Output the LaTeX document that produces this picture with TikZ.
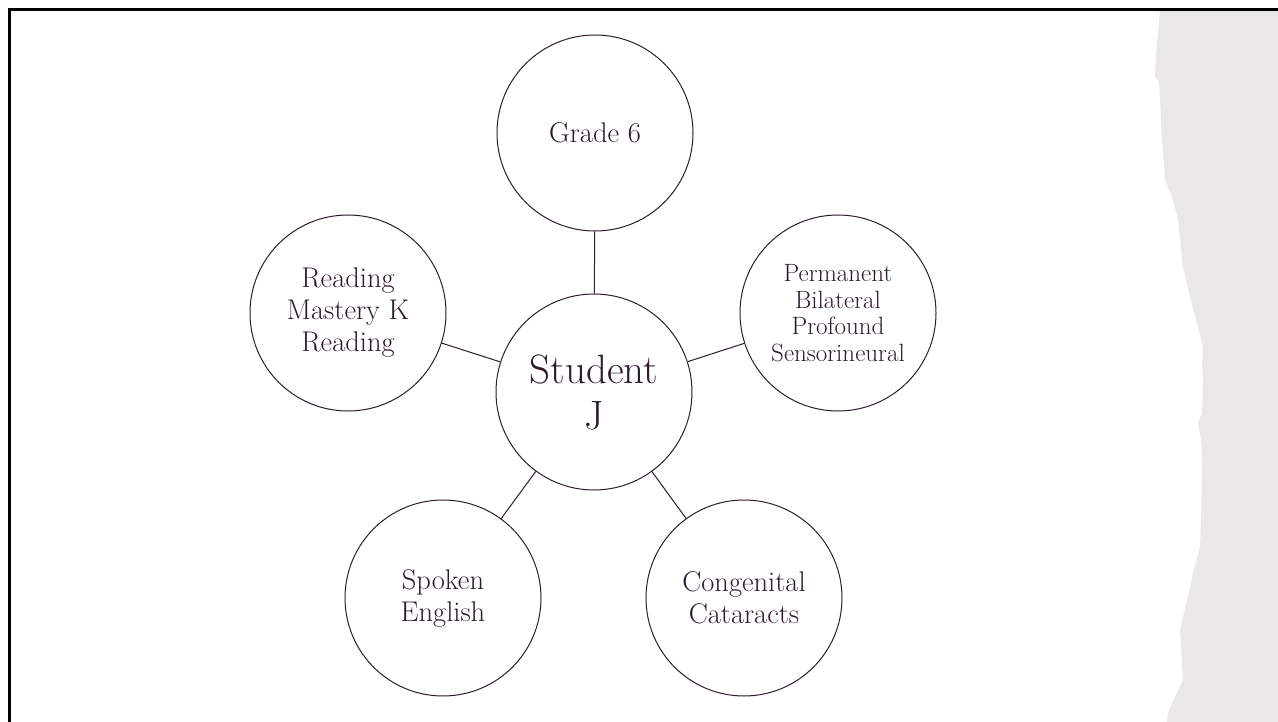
\documentclass[tikz,border=0pt]{standalone}
\usepackage{fontspec}
\definecolor{ink}{RGB}{44,28,44}
\definecolor{paper}{RGB}{234,232,230}
\begin{document}
\begin{tikzpicture}[x=1pt,y=-1pt,
  bubble/.style={circle,draw=ink,line width=1pt,minimum size=196pt,inner sep=0pt,
    align=center,text=ink,font=\fontsize{28.5}{32}\selectfont},
  link/.style={draw=ink,line width=1pt}]
\useasboundingbox (0,0) rectangle (1278,722);
\fill[white] (0,0) rectangle (1278,722);
\fill[paper] (1160,11) -- (1158,33) -- (1156,55) -- (1155,77) -- (1159,82) -- (1160,100) -- (1162,140)
  -- (1165,180) -- (1170,192) -- (1173,200) -- (1178,220) -- (1180,240) -- (1183,267) -- (1186,280) -- (1190,297)
  -- (1198,327) -- (1203,347) -- (1202,365) -- (1203,380) -- (1202,413) -- (1198,423) -- (1201,440) -- (1202,457)
  -- (1202,480) -- (1201,520) -- (1200,547) -- (1193,573) -- (1190,588) -- (1187,600) -- (1180,630) -- (1182,663)
  -- (1183,680) -- (1175,697) -- (1168,713) -- (1167,722) -- (1278,722) -- (1278,11) -- cycle;
\draw[black,line width=3pt] (9.5,722) -- (9.5,9.5) -- (1278,9.5);

\node[bubble,font=\fontsize{41}{46}\selectfont] (c) at (594,392) {Student\\J};
\node[bubble] (g) at (595,133) {Grade 6};
\node[bubble,font=\fontsize{25}{26.5}\selectfont] (p) at (838,313) {Permanent\\Bilateral\\Profound\\Sensorineural};
\node[bubble] (r) at (348,313) {Reading\\Mastery K\\Reading};
\node[bubble] (s) at (443,598) {Spoken\\English};
\node[bubble] (k) at (744,598) {Congenital\\Cataracts};

\draw[link] (c) -- (g);
\draw[link] (c) -- (p);
\draw[link] (c) -- (r);
\draw[link] (c) -- (s);
\draw[link] (c) -- (k);
\end{tikzpicture}
\end{document}
